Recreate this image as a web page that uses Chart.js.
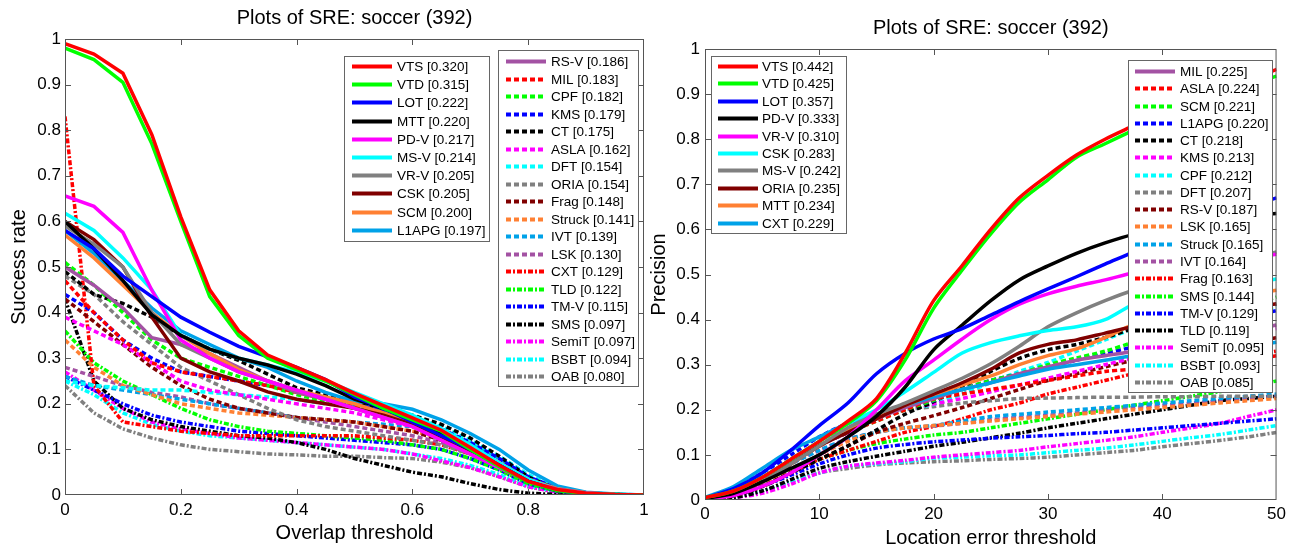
<!DOCTYPE html>
<html>
<head>
<meta charset="utf-8">
<script src="https://cdn.jsdelivr.net/npm/chart.js@4.4.1/dist/chart.umd.min.js"></script>
<style>
  html, body { margin: 0; padding: 0; background: #fff; }
  #wrap { position: relative; width: 1290px; height: 548px; overflow: hidden; background: #fff; }
  canvas { position: absolute; top: 0; }
  #sre { left: 0; }
  #pre { left: 640px; }
</style>
</head>
<body>
<div id="wrap">
  <canvas id="sre" width="660" height="548"></canvas>
  <canvas id="pre" width="650" height="548"></canvas>
</div>
<script>
'use strict';

// ---- success plot (overlap threshold) ----
const overlapThresholds = [0,0.05,0.1,0.15,0.2,0.25,0.3,0.35,0.4,0.45,0.5,0.55,0.6,0.65,0.7,0.75,0.8,0.85,0.9,0.95,1];

const succVTS    = [0.99,0.967,0.925,0.79,0.61,0.45,0.36,0.307,0.28,0.253,0.223,0.196,0.169,0.142,0.104,0.065,0.03,0.012,0.004,0.001,0];
const succVTD    = [0.98,0.955,0.905,0.77,0.6,0.435,0.35,0.3,0.275,0.25,0.22,0.19,0.165,0.14,0.1,0.062,0.028,0.01,0.003,0.001,0];
const succLOT    = [0.58,0.54,0.48,0.435,0.39,0.357,0.326,0.303,0.28,0.253,0.215,0.19,0.16,0.13,0.1,0.065,0.03,0.01,0.003,0,0];
const succMTT    = [0.6,0.54,0.47,0.395,0.35,0.32,0.3,0.285,0.265,0.24,0.21,0.19,0.165,0.135,0.1,0.065,0.03,0.01,0.003,0,0];
const succPDV    = [0.656,0.633,0.576,0.449,0.34,0.3,0.27,0.25,0.23,0.21,0.19,0.17,0.15,0.12,0.09,0.06,0.03,0.012,0.004,0.001,0];
const succMSV    = [0.618,0.58,0.52,0.45,0.35,0.32,0.3,0.285,0.27,0.25,0.225,0.2,0.175,0.145,0.11,0.07,0.035,0.012,0.004,0.001,0];
const succVRV    = [0.59,0.55,0.5,0.4,0.33,0.3,0.27,0.25,0.23,0.21,0.19,0.17,0.15,0.12,0.09,0.06,0.03,0.012,0.004,0.001,0];
const succCSK    = [0.6,0.56,0.5,0.39,0.3,0.27,0.25,0.226,0.21,0.2,0.19,0.175,0.155,0.125,0.095,0.06,0.03,0.012,0.004,0.001,0];
const succSCM    = [0.57,0.52,0.46,0.4,0.35,0.31,0.275,0.25,0.23,0.215,0.2,0.18,0.16,0.135,0.105,0.07,0.035,0.014,0.005,0.001,0];
const succL1APG  = [0.58,0.53,0.47,0.41,0.36,0.33,0.3,0.28,0.25,0.225,0.205,0.2,0.188,0.165,0.135,0.1,0.055,0.02,0.006,0.002,0];
const succRSV    = [0.5,0.46,0.41,0.345,0.33,0.31,0.28,0.25,0.225,0.21,0.19,0.175,0.155,0.13,0.1,0.065,0.03,0.012,0.004,0.001,0];
const succMIL    = [0.47,0.4,0.34,0.29,0.27,0.26,0.25,0.24,0.225,0.21,0.195,0.18,0.16,0.135,0.105,0.07,0.035,0.012,0.004,0.001,0];
const succCPF    = [0.51,0.46,0.4,0.34,0.3,0.28,0.26,0.24,0.22,0.205,0.19,0.175,0.155,0.13,0.1,0.065,0.03,0.01,0.003,0.001,0];
const succKMS    = [0.44,0.4,0.34,0.3,0.27,0.26,0.25,0.24,0.23,0.21,0.2,0.185,0.17,0.145,0.115,0.08,0.04,0.015,0.005,0.001,0];
const succCT     = [0.49,0.44,0.42,0.39,0.35,0.32,0.295,0.265,0.235,0.22,0.2,0.19,0.175,0.155,0.125,0.085,0.04,0.012,0.003,0,0];
const succASLA   = [0.39,0.36,0.33,0.29,0.25,0.23,0.22,0.21,0.2,0.19,0.18,0.165,0.15,0.125,0.1,0.065,0.03,0.01,0.003,0.001,0];
const succDFT    = [0.25,0.24,0.235,0.23,0.23,0.225,0.22,0.215,0.21,0.2,0.195,0.185,0.17,0.15,0.12,0.085,0.045,0.015,0.005,0.002,0];
const succORIA   = [0.48,0.44,0.38,0.33,0.28,0.25,0.22,0.19,0.165,0.15,0.14,0.13,0.12,0.11,0.09,0.06,0.03,0.012,0.004,0.001,0];
const succFrag   = [0.43,0.38,0.33,0.28,0.24,0.21,0.19,0.18,0.17,0.165,0.16,0.15,0.14,0.12,0.095,0.065,0.03,0.01,0.003,0.001,0];
const succStruck = [0.34,0.28,0.24,0.22,0.2,0.19,0.18,0.175,0.17,0.165,0.16,0.15,0.14,0.125,0.1,0.07,0.035,0.012,0.004,0.001,0];
const succIVT    = [0.26,0.24,0.23,0.22,0.21,0.2,0.19,0.18,0.17,0.165,0.16,0.155,0.15,0.135,0.115,0.08,0.04,0.015,0.005,0.001,0];
const succLSK    = [0.28,0.26,0.24,0.225,0.215,0.2,0.19,0.18,0.17,0.16,0.15,0.14,0.13,0.115,0.09,0.06,0.03,0.01,0.003,0.001,0];
const succCXT    = [0.83,0.24,0.16,0.15,0.14,0.135,0.13,0.13,0.13,0.13,0.13,0.125,0.12,0.11,0.09,0.06,0.03,0.01,0.003,0,0];
const succTLD    = [0.36,0.29,0.25,0.22,0.19,0.165,0.15,0.14,0.135,0.13,0.125,0.12,0.11,0.1,0.08,0.055,0.025,0.008,0.002,0,0];
const succTMV    = [0.26,0.23,0.2,0.175,0.16,0.15,0.14,0.135,0.13,0.125,0.12,0.115,0.11,0.1,0.08,0.055,0.025,0.008,0.002,0,0];
const succSMS    = [0.43,0.25,0.19,0.165,0.15,0.14,0.13,0.125,0.115,0.1,0.08,0.065,0.05,0.04,0.025,0.012,0.004,0.001,0,0,0];
const succSemiT  = [0.27,0.23,0.19,0.16,0.145,0.135,0.125,0.12,0.115,0.11,0.105,0.1,0.09,0.075,0.06,0.04,0.018,0.006,0.002,0,0];
const succBSBT   = [0.25,0.22,0.18,0.155,0.14,0.13,0.125,0.12,0.115,0.11,0.105,0.1,0.09,0.08,0.065,0.045,0.02,0.007,0.002,0,0];
const succOAB    = [0.24,0.18,0.145,0.125,0.11,0.1,0.095,0.09,0.088,0.085,0.085,0.082,0.08,0.072,0.06,0.04,0.018,0.006,0.002,0,0];

const successNames  = ['VTS','VTD','LOT','MTT','PD-V','MS-V','VR-V','CSK','SCM','L1APG','RS-V','MIL','CPF','KMS','CT','ASLA','DFT','ORIA','Frag','Struck','IVT','LSK','CXT','TLD','TM-V','SMS','SemiT','BSBT','OAB'];
const successScores = [0.320,0.315,0.222,0.220,0.217,0.214,0.205,0.205,0.200,0.197,0.186,0.183,0.182,0.179,0.175,0.162,0.154,0.154,0.148,0.141,0.139,0.130,0.129,0.122,0.115,0.097,0.097,0.094,0.080];
const successSeries = [succVTS,succVTD,succLOT,succMTT,succPDV,succMSV,succVRV,succCSK,succSCM,succL1APG,succRSV,succMIL,succCPF,succKMS,succCT,succASLA,succDFT,succORIA,succFrag,succStruck,succIVT,succLSK,succCXT,succTLD,succTMV,succSMS,succSemiT,succBSBT,succOAB];

// ---- precision plot (location error threshold) ----
const locationThresholds = [0,2.5,5,7.5,10,12.5,15,17.5,20,22.5,25,27.5,30,32.5,35,37.5,40,42.5,45,47.5,50];

const precVTS    = [0.005,0.02,0.05,0.09,0.13,0.175,0.225,0.325,0.442,0.52,0.6,0.67,0.72,0.765,0.8,0.83,0.86,0.885,0.91,0.93,0.955];
const precVTD    = [0.005,0.02,0.05,0.09,0.13,0.17,0.22,0.31,0.425,0.51,0.59,0.66,0.71,0.76,0.79,0.82,0.85,0.875,0.9,0.92,0.94];
const precLOT    = [0.005,0.025,0.06,0.11,0.165,0.215,0.28,0.325,0.357,0.38,0.41,0.44,0.468,0.495,0.523,0.55,0.58,0.61,0.63,0.65,0.67];
const precPDV    = [0.003,0.015,0.04,0.07,0.1,0.14,0.186,0.25,0.333,0.388,0.442,0.488,0.519,0.547,0.57,0.589,0.6,0.61,0.62,0.63,0.635];
const precVRV    = [0.002,0.01,0.03,0.06,0.1,0.14,0.2,0.264,0.31,0.357,0.4,0.434,0.457,0.474,0.488,0.504,0.515,0.525,0.53,0.535,0.545];
const precCSK    = [0.005,0.02,0.05,0.09,0.13,0.17,0.2,0.24,0.283,0.326,0.349,0.364,0.376,0.384,0.4,0.434,0.45,0.46,0.47,0.48,0.49];
const precMSV    = [0.003,0.015,0.04,0.08,0.12,0.16,0.19,0.215,0.242,0.27,0.302,0.341,0.384,0.415,0.442,0.465,0.48,0.5,0.52,0.535,0.55];
const precORIA   = [0.003,0.015,0.04,0.08,0.12,0.15,0.18,0.21,0.235,0.26,0.29,0.326,0.345,0.355,0.37,0.385,0.395,0.405,0.415,0.425,0.435];
const precMTT    = [0.003,0.015,0.04,0.08,0.12,0.155,0.185,0.21,0.234,0.255,0.275,0.3,0.32,0.335,0.36,0.39,0.41,0.425,0.44,0.455,0.465];
const precCXT    = [0.006,0.03,0.07,0.11,0.14,0.17,0.19,0.21,0.229,0.245,0.26,0.275,0.29,0.3,0.31,0.32,0.325,0.33,0.335,0.34,0.35];
const precMIL    = [0.003,0.015,0.04,0.08,0.12,0.15,0.18,0.205,0.225,0.245,0.26,0.28,0.295,0.31,0.32,0.33,0.345,0.355,0.365,0.375,0.388];
const precASLA   = [0.003,0.015,0.04,0.08,0.12,0.15,0.175,0.2,0.224,0.235,0.245,0.255,0.265,0.275,0.285,0.29,0.295,0.3,0.305,0.31,0.32];
const precSCM    = [0.003,0.015,0.04,0.08,0.12,0.15,0.175,0.2,0.221,0.245,0.265,0.28,0.3,0.315,0.33,0.35,0.37,0.39,0.41,0.43,0.45];
const precL1APG  = [0.005,0.025,0.06,0.1,0.14,0.17,0.19,0.205,0.22,0.245,0.265,0.28,0.295,0.31,0.325,0.34,0.36,0.38,0.39,0.405,0.42];
const precCT     = [0.002,0.01,0.03,0.06,0.09,0.12,0.155,0.19,0.218,0.25,0.285,0.314,0.333,0.345,0.36,0.38,0.39,0.4,0.41,0.42,0.434];
const precKMS    = [0.003,0.015,0.04,0.08,0.12,0.15,0.18,0.2,0.213,0.225,0.24,0.255,0.27,0.285,0.3,0.315,0.33,0.345,0.36,0.37,0.38];
const precCPF    = [0.003,0.015,0.04,0.08,0.12,0.155,0.18,0.2,0.212,0.235,0.26,0.285,0.305,0.33,0.355,0.38,0.395,0.405,0.415,0.42,0.425];
const precDFT    = [0.003,0.015,0.04,0.08,0.12,0.16,0.185,0.2,0.207,0.215,0.22,0.225,0.226,0.227,0.228,0.228,0.229,0.229,0.23,0.23,0.23];
const precRSV    = [0.002,0.01,0.03,0.06,0.09,0.12,0.15,0.17,0.187,0.205,0.225,0.245,0.265,0.28,0.295,0.31,0.32,0.33,0.34,0.35,0.36];
const precLSK    = [0.003,0.015,0.035,0.065,0.1,0.13,0.15,0.16,0.165,0.17,0.175,0.18,0.185,0.19,0.195,0.2,0.205,0.21,0.215,0.22,0.225];
const precStruck = [0.005,0.025,0.05,0.08,0.11,0.135,0.15,0.16,0.165,0.175,0.185,0.19,0.195,0.2,0.205,0.21,0.215,0.22,0.225,0.23,0.235];
const precIVT    = [0.003,0.02,0.045,0.08,0.11,0.135,0.15,0.16,0.164,0.17,0.178,0.183,0.188,0.193,0.2,0.205,0.21,0.215,0.22,0.225,0.23];
const precFrag   = [0.002,0.01,0.03,0.06,0.09,0.11,0.13,0.15,0.163,0.18,0.2,0.215,0.235,0.25,0.265,0.28,0.29,0.3,0.31,0.32,0.33];
const precSMS    = [0.002,0.01,0.03,0.06,0.09,0.11,0.125,0.135,0.144,0.15,0.16,0.17,0.18,0.19,0.2,0.21,0.22,0.23,0.24,0.25,0.264];
const precTMV    = [0.002,0.01,0.03,0.055,0.08,0.1,0.115,0.123,0.129,0.133,0.137,0.14,0.143,0.147,0.15,0.155,0.16,0.165,0.17,0.175,0.18];
const precTLD    = [0.001,0.005,0.02,0.045,0.07,0.085,0.097,0.108,0.119,0.128,0.138,0.148,0.16,0.17,0.18,0.19,0.2,0.21,0.22,0.225,0.23];
const precSemiT  = [0.001,0.005,0.015,0.035,0.06,0.075,0.082,0.088,0.095,0.1,0.105,0.11,0.118,0.125,0.132,0.14,0.15,0.16,0.17,0.185,0.2];
const precBSBT   = [0.001,0.005,0.02,0.04,0.06,0.075,0.08,0.085,0.093,0.095,0.098,0.1,0.105,0.11,0.115,0.122,0.13,0.138,0.145,0.155,0.165];
const precOAB    = [0.001,0.005,0.02,0.04,0.06,0.07,0.078,0.082,0.085,0.087,0.09,0.092,0.095,0.1,0.105,0.11,0.118,0.125,0.132,0.14,0.15];

const precisionNames  = ['VTS','VTD','LOT','PD-V','VR-V','CSK','MS-V','ORIA','MTT','CXT','MIL','ASLA','SCM','L1APG','CT','KMS','CPF','DFT','RS-V','LSK','Struck','IVT','Frag','SMS','TM-V','TLD','SemiT','BSBT','OAB'];
const precisionScores = [0.442,0.425,0.357,0.333,0.310,0.283,0.242,0.235,0.234,0.229,0.225,0.224,0.221,0.220,0.218,0.213,0.212,0.207,0.187,0.165,0.165,0.164,0.163,0.144,0.129,0.119,0.095,0.093,0.085];
const precisionSeries = [precVTS,precVTD,precLOT,precPDV,precVRV,precCSK,precMSV,precORIA,precMTT,precCXT,precMIL,precASLA,precSCM,precL1APG,precCT,precKMS,precCPF,precDFT,precRSV,precLSK,precStruck,precIVT,precFrag,precSMS,precTMV,precTLD,precSemiT,precBSBT,precOAB];

// ---- styles ----
const palette = ['#ff0000','#00ff00','#0000ff','#000000','#ff00ff','#00ffff','#808080','#800000','#ff8033','#00a2e8','#a352a3'];
const DASH = [5, 3];
const DASHDOT = [5, 2, 2, 2];

function styleFor(i) {
  if (i < 11) return { color: palette[i], dash: [] };
  if (i < 22) return { color: palette[i - 11], dash: DASH };
  return { color: palette[i - 22], dash: DASHDOT };
}

function buildDatasets(xs, series, names, scores, tension) {
  return series.map((ys, i) => {
    const st = styleFor(i);
    return {
      label: `${names[i]} [${scores[i].toFixed(3)}]`,
      data: ys.map((y, k) => ({ x: xs[k], y: y })),
      borderColor: st.color,
      backgroundColor: st.color,
      borderDash: st.dash,
      borderWidth: 3.5,
      borderCapStyle: 'butt',
      pointRadius: 0,
      fill: false,
      tension: tension
    };
  });
}

Chart.defaults.font.family = '"Liberation Sans", Arial, Helvetica, sans-serif';
Chart.defaults.color = '#000';

// frame, inward ticks, title and the two legend boxes, MATLAB style
const matlabFrame = {
  id: 'matlabFrame',
  afterDraw(chart, args, o) {
    const { ctx, chartArea: a, scales } = chart;
    ctx.save();
    ctx.strokeStyle = '#555';
    ctx.lineWidth = 1;
    ctx.setLineDash([]);
    ctx.strokeRect(a.left + 0.5, a.top + 0.5, a.right - a.left - 1, a.bottom - a.top - 1);
    ctx.beginPath();
    scales.x.ticks.forEach(t => {
      const px = Math.round(scales.x.getPixelForValue(t.value)) + 0.5;
      if (px < a.left + 2 || px > a.right - 2) return;
      ctx.moveTo(px, a.bottom); ctx.lineTo(px, a.bottom - 6);
      ctx.moveTo(px, a.top); ctx.lineTo(px, a.top + 6);
    });
    scales.y.ticks.forEach(t => {
      const py = Math.round(scales.y.getPixelForValue(t.value)) + 0.5;
      if (py < a.top + 2 || py > a.bottom - 2) return;
      ctx.moveTo(a.left, py); ctx.lineTo(a.left + 6, py);
      ctx.moveTo(a.right, py); ctx.lineTo(a.right - 6, py);
    });
    ctx.stroke();

    ctx.fillStyle = '#000';
    ctx.font = '20px "Liberation Sans", Arial, sans-serif';
    ctx.textAlign = 'center';
    ctx.textBaseline = 'middle';
    ctx.fillText(o.title, (a.left + a.right) / 2, o.titleY);

    const dsets = chart.data.datasets;
    o.legends.forEach(g => {
      ctx.fillStyle = '#fff';
      ctx.fillRect(g.x, g.y, g.w, g.h);
      ctx.strokeStyle = '#666';
      ctx.lineWidth = 1;
      ctx.setLineDash([]);
      ctx.strokeRect(g.x + 0.5, g.y + 0.5, g.w, g.h);
      ctx.font = '13.5px "Liberation Sans", Arial, sans-serif';
      ctx.textAlign = 'left';
      ctx.textBaseline = 'middle';
      for (let k = 0; k < g.count; k++) {
        const ds = dsets[g.start + k];
        const y = Math.round(g.first + k * g.step) + 0.5;
        ctx.strokeStyle = ds.borderColor;
        ctx.lineWidth = 4;
        ctx.lineCap = 'butt';
        ctx.setLineDash(ds.borderDash);
        ctx.beginPath();
        ctx.moveTo(g.lineX0, y);
        ctx.lineTo(g.lineX1, y);
        ctx.stroke();
        ctx.setLineDash([]);
        ctx.fillStyle = '#000';
        ctx.fillText(ds.label, g.textX, y + 0.5);
      }
    });
    ctx.restore();
  }
};

function makeChart(id, cfg) {
  return new Chart(document.getElementById(id), {
    type: 'line',
    data: { datasets: cfg.datasets },
    plugins: [matlabFrame],
    options: {
      responsive: false,
      animation: false,
      devicePixelRatio: 1,
      layout: { padding: { left: 0, right: cfg.padRight, top: cfg.padTop, bottom: 0 } },
      plugins: {
        legend: { display: false },
        tooltip: { enabled: false },
        title: { display: false },
        matlabFrame: { title: 'Plots of SRE: soccer (392)', titleY: cfg.titleY, legends: cfg.legends }
      },
      scales: {
        x: {
          type: 'linear',
          min: cfg.xMin, max: cfg.xMax,
          afterFit: s => { s.height = cfg.xHeight; },
          grid: { display: false, drawTicks: false },
          border: { display: false },
          ticks: { stepSize: cfg.xStep, padding: cfg.xPad, font: { size: 17 }, maxRotation: 0,
                   callback: v => String(+v.toFixed(2)) },
          title: { display: true, text: cfg.xTitle, font: { size: 20, lineHeight: 1 }, padding: { top: 0, bottom: cfg.xTitlePad } }
        },
        y: {
          min: 0, max: 1,
          afterFit: s => { s.width = 65; },
          grid: { display: false, drawTicks: false },
          border: { display: false },
          ticks: { stepSize: 0.1, padding: cfg.yPad, font: { size: 17 },
                   callback: v => String(+v.toFixed(2)) },
          title: { display: true, text: cfg.yTitle, font: { size: 20, lineHeight: 1 }, padding: { top: 9, bottom: 0 } }
        }
      }
    }
  });
}

makeChart('sre', {
  datasets: buildDatasets(overlapThresholds, successSeries, successNames, successScores, 0),
  padRight: 16, padTop: 39, xHeight: 53, xMin: 0, xMax: 1, xStep: 0.2, xPad: 5, yPad: 4,
  xTitle: 'Overlap threshold', xTitlePad: 5, yTitle: 'Success rate', titleY: 18,
  legends: [
    { x: 344, y: 56, w: 145, h: 185, start: 0, count: 10, first: 66, step: 18.2, lineX0: 352, lineX1: 392, textX: 397 },
    { x: 498, y: 50, w: 140, h: 336, start: 10, count: 19, first: 61, step: 17.5, lineX0: 506, lineX1: 546, textX: 551 }
  ]
});

makeChart('pre', {
  datasets: buildDatasets(locationThresholds, precisionSeries, precisionNames, precisionScores, 0.3),
  padRight: 13, padTop: 49, xHeight: 48, xMin: 0, xMax: 50, xStep: 10, xPad: 4, yPad: 5,
  xTitle: 'Location error threshold', xTitlePad: 0, yTitle: 'Precision', titleY: 28,
  legends: [
    { x: 71, y: 56, w: 135, h: 177, start: 0, count: 10, first: 66, step: 17.4, lineX0: 78, lineX1: 118, textX: 122 },
    { x: 488, y: 60, w: 144, h: 332, start: 10, count: 19, first: 71, step: 17.27, lineX0: 495, lineX1: 535, textX: 540 }
  ]
});
</script>
</body>
</html>
